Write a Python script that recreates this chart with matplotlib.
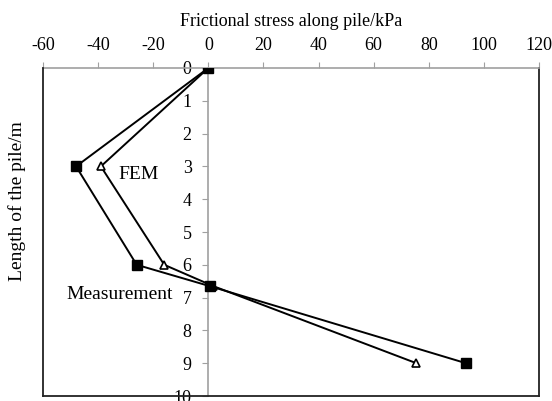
import matplotlib.pyplot as plt

plt.rcParams['font.family'] = ['Liberation Serif', 'DejaVu Serif']
plt.rcParams['axes.unicode_minus'] = False

# Frictional stress (kPa) versus depth along the pile (m)
depth_meas = [0, 3, 6, 6.65, 9]
stress_meas = [0, -48, -26, 0.5, 93.5]
depth_fem = [0, 3, 6, 6.65, 9]
stress_fem = [0, -39, -16, 1.8, 75.5]

x_ticks = list(range(-60, 121, 20))
y_ticks = list(range(0, 11))

fig = plt.figure(figsize=(5.52, 4.01), dpi=100)
ax = fig.add_axes([43 / 552, 1 - 396 / 401, 496 / 552, 328 / 401])

# FEM first so the measured squares sit on top
ax.plot(stress_fem, depth_fem, color='black', lw=1.4, marker='^',
        markersize=6, markerfacecolor='white', markeredgewidth=1.2, zorder=3)
ax.plot(stress_meas, depth_meas, color='black', lw=1.4, marker='s',
        markersize=7, markerfacecolor='black', zorder=3)

ax.text(-32.5, 3.25, 'FEM', fontsize=14, ha='left', va='center')
ax.text(-51.5, 6.9, 'Measurement', fontsize=14, ha='left', va='center')

ax.set_xlim(-60, 120)
ax.set_ylim(10, 0)
ax.set_xticks(x_ticks)
ax.set_yticks(y_ticks)

# x axis on top, y axis through stress = 0
ax.xaxis.tick_top()
ax.xaxis.set_label_position('top')
ax.spines['left'].set_position(('data', 0))
for s in ['left', 'top']:
    ax.spines[s].set_color('#a0a0a0')
    ax.spines[s].set_linewidth(1.2)
for s in ['right', 'bottom']:
    ax.spines[s].set_color('#222222')
    ax.spines[s].set_linewidth(1.3)
ax.plot([0, 0], [0, 1], transform=ax.transAxes, color='#222222',
        lw=1.3, clip_on=False, zorder=4)

ax.tick_params(axis='x', direction='out', length=4, color='#a0a0a0',
               labelsize=13, pad=6)
ax.tick_params(axis='y', direction='out', length=4, color='#a0a0a0',
               labelsize=13, pad=8)

ax.set_xlabel('Frictional stress along pile/kPa', fontsize=13, labelpad=8)
fig.text(17 / 552, 1 - 201 / 401, 'Length of the pile/m', fontsize=14,
         rotation=90, ha='center', va='center')

fig.savefig('out.png', dpi=100)
